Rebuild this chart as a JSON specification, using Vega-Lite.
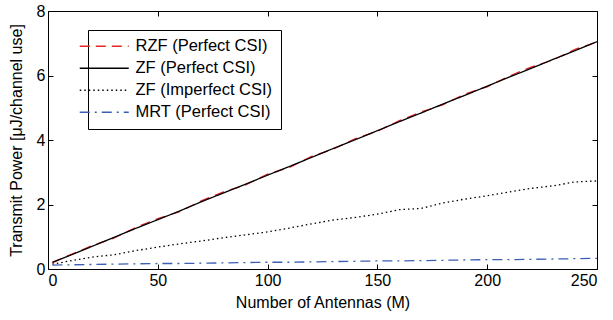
{
  "$schema": "https://vega.github.io/schema/vega-lite/v6.json",
  "width": 549,
  "height": 258,
  "autosize": {"type": "none"},
  "padding": {"left": 48, "top": 11, "right": 16, "bottom": 51},
  "background": "white",
  "config": {
    "view": {"stroke": "black", "strokeWidth": 1},
    "font": "Liberation Sans",
    "axis": {
      "domain": false,
      "grid": false,
      "tickColor": "black",
      "tickSize": -5,
      "labelColor": "black",
      "labelFontSize": 16,
      "labelFont": "Liberation Sans",
      "titleFont": "Liberation Sans",
      "titleFontSize": 16,
      "titleFontWeight": "normal",
      "titleColor": "black",
      "labelPadding": 8
    },
    "legend": {
      "labelFont": "Liberation Sans",
      "labelFontSize": 16.5,
      "labelColor": "black"
    }
  },
  "data": {
    "values": [
      {"M": 2, "RZF (Perfect CSI)": 0.19, "ZF (Perfect CSI)": 0.21, "ZF (Imperfect CSI)": 0.15, "MRT (Perfect CSI)": 0.12},
      {"M": 10, "RZF (Perfect CSI)": 0.44, "ZF (Perfect CSI)": 0.42, "ZF (Imperfect CSI)": 0.25, "MRT (Perfect CSI)": 0.13},
      {"M": 20, "RZF (Perfect CSI)": 0.72, "ZF (Perfect CSI)": 0.70, "ZF (Imperfect CSI)": 0.37, "MRT (Perfect CSI)": 0.14},
      {"M": 30, "RZF (Perfect CSI)": 0.96, "ZF (Perfect CSI)": 0.98, "ZF (Imperfect CSI)": 0.44, "MRT (Perfect CSI)": 0.15},
      {"M": 40, "RZF (Perfect CSI)": 1.29, "ZF (Perfect CSI)": 1.26, "ZF (Imperfect CSI)": 0.57, "MRT (Perfect CSI)": 0.16},
      {"M": 50, "RZF (Perfect CSI)": 1.56, "ZF (Perfect CSI)": 1.53, "ZF (Imperfect CSI)": 0.68, "MRT (Perfect CSI)": 0.17},
      {"M": 60, "RZF (Perfect CSI)": 1.78, "ZF (Perfect CSI)": 1.80, "ZF (Imperfect CSI)": 0.78, "MRT (Perfect CSI)": 0.17},
      {"M": 70, "RZF (Perfect CSI)": 2.12, "ZF (Perfect CSI)": 2.09, "ZF (Imperfect CSI)": 0.87, "MRT (Perfect CSI)": 0.18},
      {"M": 80, "RZF (Perfect CSI)": 2.39, "ZF (Perfect CSI)": 2.36, "ZF (Imperfect CSI)": 0.97, "MRT (Perfect CSI)": 0.19},
      {"M": 90, "RZF (Perfect CSI)": 2.61, "ZF (Perfect CSI)": 2.63, "ZF (Imperfect CSI)": 1.06, "MRT (Perfect CSI)": 0.20},
      {"M": 100, "RZF (Perfect CSI)": 2.94, "ZF (Perfect CSI)": 2.91, "ZF (Imperfect CSI)": 1.15, "MRT (Perfect CSI)": 0.21},
      {"M": 110, "RZF (Perfect CSI)": 3.15, "ZF (Perfect CSI)": 3.18, "ZF (Imperfect CSI)": 1.27, "MRT (Perfect CSI)": 0.21},
      {"M": 120, "RZF (Perfect CSI)": 3.49, "ZF (Perfect CSI)": 3.46, "ZF (Imperfect CSI)": 1.40, "MRT (Perfect CSI)": 0.22},
      {"M": 130, "RZF (Perfect CSI)": 3.72, "ZF (Perfect CSI)": 3.74, "ZF (Imperfect CSI)": 1.52, "MRT (Perfect CSI)": 0.23},
      {"M": 140, "RZF (Perfect CSI)": 4.04, "ZF (Perfect CSI)": 4.01, "ZF (Imperfect CSI)": 1.60, "MRT (Perfect CSI)": 0.24},
      {"M": 150, "RZF (Perfect CSI)": 4.27, "ZF (Perfect CSI)": 4.29, "ZF (Imperfect CSI)": 1.70, "MRT (Perfect CSI)": 0.25},
      {"M": 160, "RZF (Perfect CSI)": 4.60, "ZF (Perfect CSI)": 4.57, "ZF (Imperfect CSI)": 1.84, "MRT (Perfect CSI)": 0.25},
      {"M": 170, "RZF (Perfect CSI)": 4.87, "ZF (Perfect CSI)": 4.84, "ZF (Imperfect CSI)": 1.88, "MRT (Perfect CSI)": 0.26},
      {"M": 180, "RZF (Perfect CSI)": 5.10, "ZF (Perfect CSI)": 5.12, "ZF (Imperfect CSI)": 2.05, "MRT (Perfect CSI)": 0.27},
      {"M": 190, "RZF (Perfect CSI)": 5.43, "ZF (Perfect CSI)": 5.39, "ZF (Imperfect CSI)": 2.17, "MRT (Perfect CSI)": 0.28},
      {"M": 200, "RZF (Perfect CSI)": 5.65, "ZF (Perfect CSI)": 5.67, "ZF (Imperfect CSI)": 2.27, "MRT (Perfect CSI)": 0.29},
      {"M": 210, "RZF (Perfect CSI)": 5.98, "ZF (Perfect CSI)": 5.95, "ZF (Imperfect CSI)": 2.39, "MRT (Perfect CSI)": 0.29},
      {"M": 220, "RZF (Perfect CSI)": 6.26, "ZF (Perfect CSI)": 6.22, "ZF (Imperfect CSI)": 2.50, "MRT (Perfect CSI)": 0.30},
      {"M": 230, "RZF (Perfect CSI)": 6.48, "ZF (Perfect CSI)": 6.50, "ZF (Imperfect CSI)": 2.58, "MRT (Perfect CSI)": 0.31},
      {"M": 240, "RZF (Perfect CSI)": 6.81, "ZF (Perfect CSI)": 6.77, "ZF (Imperfect CSI)": 2.70, "MRT (Perfect CSI)": 0.32},
      {"M": 250, "RZF (Perfect CSI)": 7.04, "ZF (Perfect CSI)": 7.05, "ZF (Imperfect CSI)": 2.73, "MRT (Perfect CSI)": 0.33}
    ]
  },
  "transform": [
    {"fold": ["RZF (Perfect CSI)", "ZF (Perfect CSI)", "ZF (Imperfect CSI)", "MRT (Perfect CSI)"], "as": ["series", "P"]}
  ],
  "layer": [
    {
      "mark": {"type": "line", "strokeWidth": 1.3, "clip": true},
      "encoding": {
        "x": {
          "field": "M", "type": "quantitative",
          "scale": {"domain": [0, 250], "nice": false},
          "axis": {"orient": "bottom", "values": [0, 50, 100, 150, 200, 250], "title": "Number of Antennas (M)", "titlePadding": 6}
        },
        "y": {
          "field": "P", "type": "quantitative",
          "scale": {"domain": [0, 8], "nice": false},
          "axis": {"orient": "left", "values": [0, 2, 4, 6, 8], "title": "Transmit Power [μJ/channel use]", "titlePadding": 12}
        },
        "color": {
          "field": "series", "type": "nominal",
          "scale": {
            "domain": ["RZF (Perfect CSI)", "ZF (Perfect CSI)", "ZF (Imperfect CSI)", "MRT (Perfect CSI)"],
            "range": ["#e8252a", "#000000", "#000000", "#3b5fb5"]
          },
          "legend": {
            "title": null,
            "orient": "none",
            "legendX": 40,
            "legendY": 19,
            "symbolType": "M-3.5,0H3.5",
            "symbolSize": 196,
            "symbolStrokeWidth": 1.4,
            "labelOffset": 23,
            "rowPadding": 5,
            "padding": 8,
            "strokeColor": "black",
            "fillColor": "white"
          }
        },
        "strokeDash": {
          "field": "series", "type": "nominal",
          "scale": {
            "domain": ["RZF (Perfect CSI)", "ZF (Perfect CSI)", "ZF (Imperfect CSI)", "MRT (Perfect CSI)"],
            "range": [[10, 6], [1, 0], [1.5, 3], [10, 5, 2, 5]]
          },
          "legend": {
            "title": null,
            "orient": "none",
            "legendX": 40,
            "legendY": 19,
            "symbolType": "M-3.5,0H3.5",
            "symbolSize": 196,
            "symbolStrokeWidth": 1.4,
            "labelOffset": 23,
            "rowPadding": 5,
            "padding": 8,
            "strokeColor": "black",
            "fillColor": "white"
          }
        }
      }
    },
    {
      "mark": {"type": "point", "opacity": 0},
      "encoding": {
        "x": {
          "field": "M", "type": "quantitative",
          "axis": {"orient": "top", "values": [0, 50, 100, 150, 200, 250], "labels": false, "title": null}
        },
        "y": {
          "field": "P", "type": "quantitative",
          "axis": {"orient": "right", "values": [0, 2, 4, 6, 8], "labels": false, "title": null}
        }
      }
    }
  ],
  "resolve": {"axis": {"x": "independent", "y": "independent"}}
}
